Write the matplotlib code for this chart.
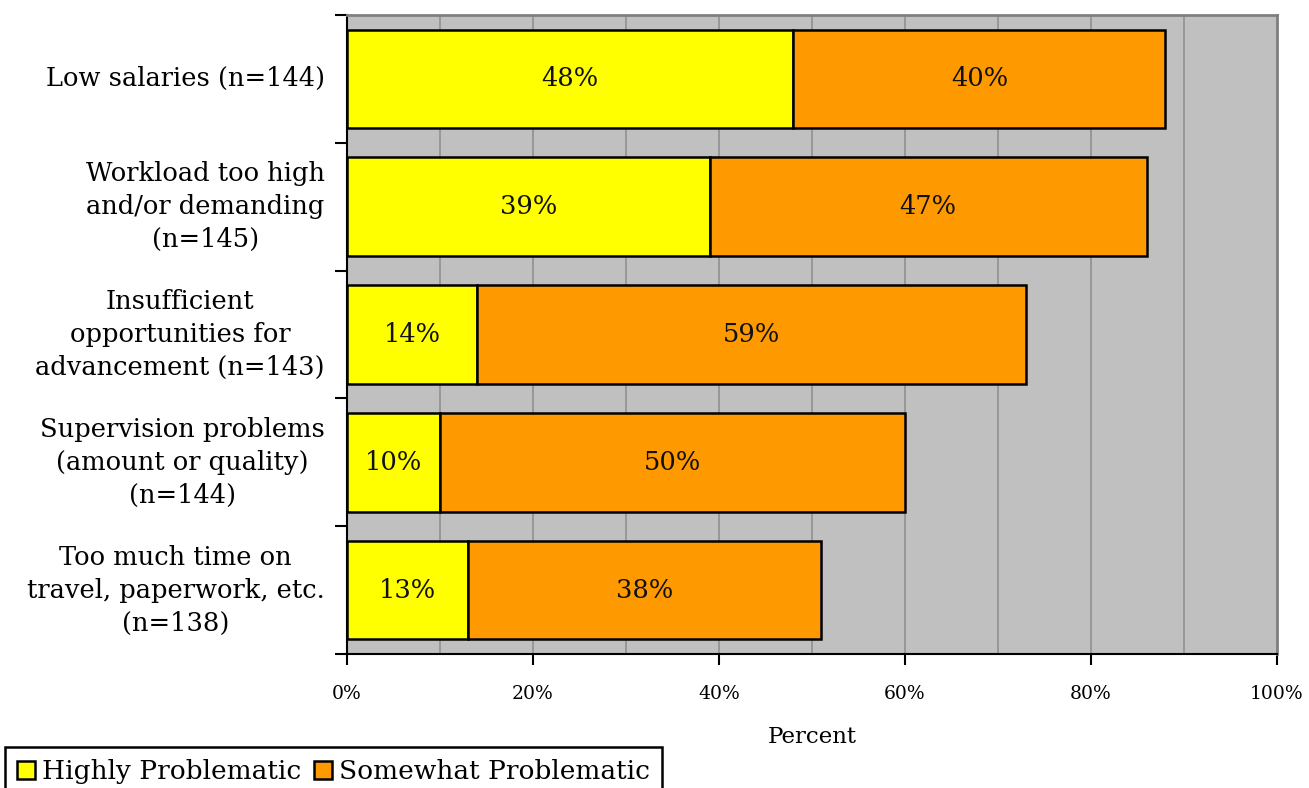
import matplotlib.pyplot as plt
import numpy as np

# survey categories, top to bottom
categories = [
    "Low salaries (n=144)",
    "Workload too high\nand/or demanding\n(n=145)",
    "Insufficient\nopportunities for\nadvancement (n=143)",
    "Supervision problems\n(amount or quality)\n(n=144)",
    "Too much time on\ntravel, paperwork, etc.\n(n=138)",
]
highly = [48, 39, 14, 10, 13]
somewhat = [40, 47, 59, 50, 38]
series_names = ["Highly Problematic", "Somewhat Problematic"]
xticks = [0, 20, 40, 60, 80, 100]

YELLOW = "#ffff00"
ORANGE = "#ff9900"

plt.rcParams['font.family'] = ['DejaVu Serif']

fig = plt.figure(figsize=(13.09, 7.88), dpi=100)
ax = fig.add_axes([347 / 1309, 1 - 654 / 788, (1277 - 347) / 1309, (654 - 15) / 788])
ax.set_facecolor("#c0c0c0")

y = np.arange(len(categories))
h = 0.77
b1 = ax.barh(y, highly, height=h, color=YELLOW, edgecolor="black", linewidth=1.8,
             label=series_names[0], zorder=3)
b2 = ax.barh(y, somewhat, left=highly, height=h, color=ORANGE, edgecolor="black",
             linewidth=1.8, label=series_names[1], zorder=3)

for i in range(len(categories)):
    ax.text(highly[i] / 2, y[i], f"{highly[i]}%", ha="center", va="center",
            fontsize=18.5, color="#111111", zorder=4)
    ax.text(highly[i] + somewhat[i] / 2, y[i], f"{somewhat[i]}%", ha="center",
            va="center", fontsize=18.5, color="#111111", zorder=4)

ax.set_ylim(len(categories) - 0.5, -0.5)
ax.set_xlim(0, 100)

# vertical gridlines every 10%
ax.set_xticks(np.arange(0, 101, 10), minor=True)
ax.grid(axis="x", which="both", color="#909090", linewidth=1.2, zorder=1)
ax.set_axisbelow(True)

ax.set_xticks(xticks)
ax.set_xticklabels([f"{t}%" for t in xticks], fontsize=13.5)
ax.tick_params(axis="x", which="major", length=8, width=1.5, direction="out", pad=14)
ax.tick_params(axis="x", which="minor", length=0)

# y ticks sit on category boundaries, labels centred in each band
ax.set_yticks(np.arange(-0.5, len(categories) + 0.5, 1))
ax.set_yticklabels([])
ax.tick_params(axis="y", length=9, width=1.5, direction="out")
for i, c in enumerate(categories):
    ax.text(-0.024, y[i], c, transform=ax.get_yaxis_transform(), ha="right",
            va="center", multialignment="center", fontsize=18.5, linespacing=1.4)

for side in ["top", "right"]:
    ax.spines[side].set_color("#808080")
    ax.spines[side].set_linewidth(2)
for side in ["left", "bottom"]:
    ax.spines[side].set_color("black")
    ax.spines[side].set_linewidth(1.5)

ax.set_xlabel("Percent", fontsize=16.5, labelpad=17)

leg = fig.legend(handles=[b1, b2], loc="upper left",
                 bbox_to_anchor=(5 / 1309, 1 - 747 / 788), ncol=2, fontsize=19,
                 frameon=True, fancybox=False, edgecolor="black", framealpha=1,
                 handlelength=0.68, handleheight=0.68, handletextpad=0.27,
                 columnspacing=0.5, borderpad=0.45, borderaxespad=0)
leg.get_frame().set_linewidth(1.8)

fig.savefig("out.png", dpi=100)
